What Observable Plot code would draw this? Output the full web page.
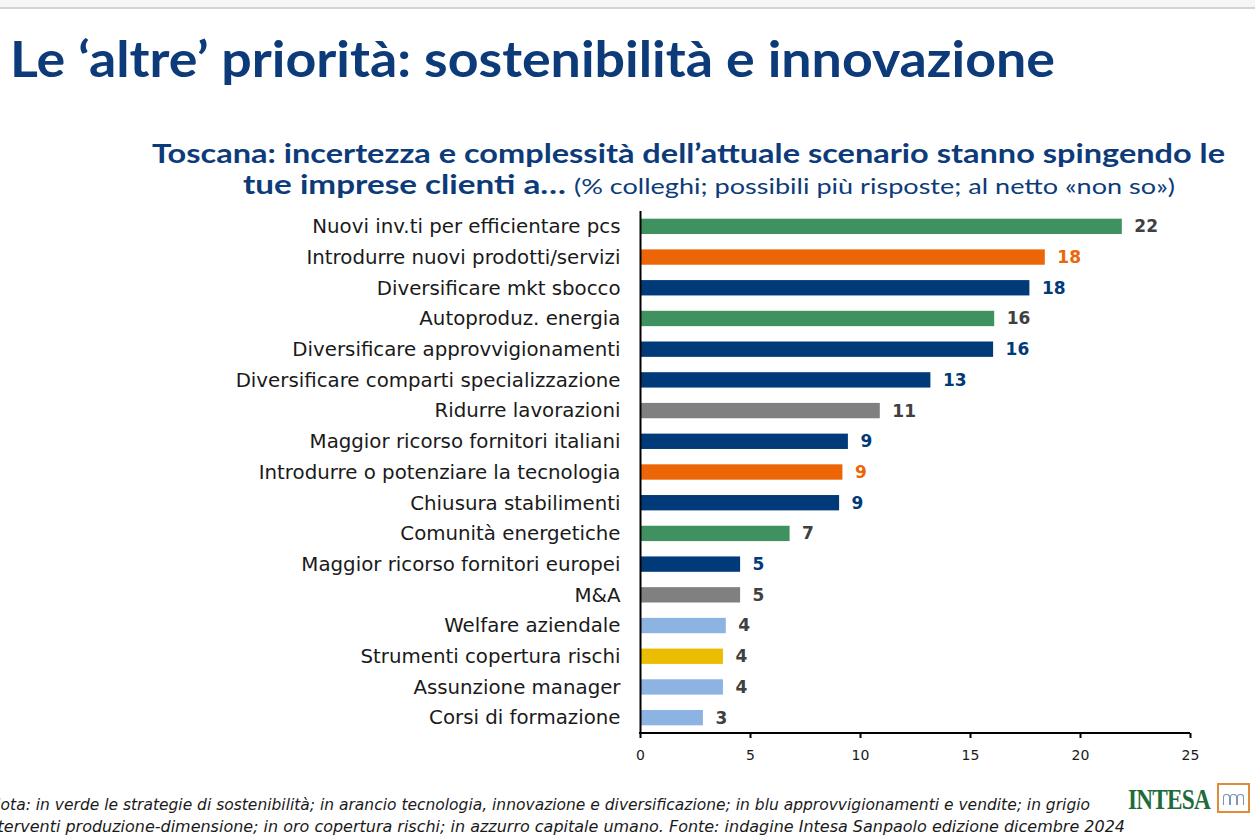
<!DOCTYPE html>
<html>
<head>
<meta charset="utf-8">
<script src="https://cdn.jsdelivr.net/npm/d3@7"></script>
<script src="https://cdn.jsdelivr.net/npm/@observablehq/plot@0.6"></script>
<style>
  html, body { margin: 0; padding: 0; background: #fff; }
  body { width: 1255px; height: 839px; overflow: hidden; position: relative; font-family: "DejaVu Sans", sans-serif; }
  .abs { position: absolute; white-space: nowrap; transform-origin: 0 0; }
  #topbar { position: absolute; left: 0; top: 0; width: 1255px; height: 7px; background: #f6f6f6; border-bottom: 2px solid #d4d4d4; }
  #title { left: 10px; top: 28px; font-family: Lato, sans-serif; font-weight: 700; font-size: 50px; color: #0d3b7a; }
  .sub { font-family: Lato, sans-serif; font-weight: 700; color: #0d3b7a; }
  #sub1 { left: 152px; top: 136px; font-size: 27px; }
  #sub2 { left: 243px; top: 167px; font-size: 27px; }
  #sub2 .light { font-weight: 400; font-size: 22px; }
  .foot { font-family: "DejaVu Sans", sans-serif; font-style: italic; font-size: 15px; color: #1a1a1a; }
  #foot1 { left: -11px; top: 796px; }
  #foot2 { left: -17px; top: 818px; }
  #logo { left: 1128px; top: 782px; font-family: "Liberation Serif", serif; font-weight: 700; font-size: 30px; color: #1e6b3c; letter-spacing: -1px; }
  #icon { position: absolute; left: 1217px; top: 783px; width: 29px; height: 26px; border: 2px solid #e08a3c; background: #fff; box-sizing: content-box; }
  #icon span { position: absolute; bottom: 6px; width: 5px; height: 10px; border: 1px solid #7a95b8; border-bottom: none; border-radius: 3px 3px 0 0; }
  #chart { position: absolute; left: 0; top: 0; }
</style>
</head>
<body>
<div id="topbar"></div>
<div id="chart"></div>
<div id="title" class="abs">Le ‘altre’ priorità: sostenibilità e innovazione</div>
<div id="sub1" class="abs sub">Toscana: incertezza e complessità dell’attuale scenario stanno spingendo le</div>
<div id="sub2" class="abs sub">tue imprese clienti a… <span class="light">(% colleghi; possibili più risposte; al netto «non so»)</span></div>
<div id="foot1" class="abs foot">Nota: in verde le strategie di sostenibilità; in arancio tecnologia, innovazione e diversificazione; in blu approvvigionamenti e vendite; in grigio</div>
<div id="foot2" class="abs foot">interventi produzione-dimensione; in oro copertura rischi; in azzurro capitale umano. Fonte: indagine Intesa Sanpaolo edizione dicembre 2024</div>
<div id="logo" class="abs">INTESA</div>
<div id="icon"><span style="left:4px"></span><span style="left:11px"></span><span style="left:18px"></span></div>
<script>
const categories = [
  "Nuovi inv.ti per efficientare pcs",
  "Introdurre nuovi prodotti/servizi",
  "Diversificare mkt sbocco",
  "Autoproduz. energia",
  "Diversificare approvvigionamenti",
  "Diversificare comparti specializzazione",
  "Ridurre lavorazioni",
  "Maggior ricorso fornitori italiani",
  "Introdurre o potenziare la tecnologia",
  "Chiusura stabilimenti",
  "Comunità energetiche",
  "Maggior ricorso fornitori europei",
  "M&A",
  "Welfare aziendale",
  "Strumenti copertura rischi",
  "Assunzione manager",
  "Corsi di formazione"
];
const values = [21.9, 18.4, 17.7, 16.1, 16.05, 13.2, 10.9, 9.45, 9.2, 9.05, 6.8, 4.55, 4.55, 3.9, 3.77, 3.77, 2.86];
const groups = ["verde", "arancio", "blu", "verde", "blu", "blu", "grigio", "blu", "arancio", "blu", "verde", "blu", "grigio", "azzurro", "oro", "azzurro", "azzurro"];
const xTicks = [0, 5, 10, 15, 20, 25];

const groupNames = ["verde", "arancio", "blu", "grigio", "oro", "azzurro"];
const barColors = ["#3f9160", "#ec6608", "#003a78", "#808080", "#ebbd00", "#8db3e2"];
const labelColors = ["#404040", "#ec6608", "#003a78", "#404040", "#404040", "#404040"];

const data = categories.map((c, i) => ({cat: c, v: values[i], g: groups[i]}));
const labelColor = g => labelColors[groupNames.indexOf(g)];

// bottom axis line, drawn along the x scale's range
const bottomLine = (index, scales, values, dims) => {
  const [x0, x1] = [scales.x(0), scales.x(25)];
  const y = dims.height - dims.marginBottom;
  const line = document.createElementNS("http://www.w3.org/2000/svg", "line");
  line.setAttribute("x1", x0 - 1);
  line.setAttribute("x2", x1);
  line.setAttribute("y1", y);
  line.setAttribute("y2", y);
  line.setAttribute("stroke", "#000");
  line.setAttribute("stroke-width", 2);
  return line;
};

const plot = Plot.plot({
  width: 1255,
  height: 839,
  marginLeft: 640,
  marginRight: 65,
  marginTop: 211,
  marginBottom: 106,
  style: {fontFamily: "DejaVu Sans, sans-serif", background: "transparent"},
  x: {domain: [0, 25]},
  y: {domain: categories, paddingInner: 0.5, paddingOuter: 0.25, round: false},
  color: {domain: groupNames, range: barColors},
  marks: [
    Plot.barX(data, {x: "v", y: "cat", fill: "g"}),
    Plot.text(data, {
      x: "v", y: "cat", text: d => String(Math.round(d.v)),
      dx: 12, textAnchor: "start", fontWeight: "bold", fontSize: 17,
      fill: d => labelColor(d.g)
    }),
    Plot.ruleX([0], {stroke: "#000", strokeWidth: 2}),
    bottomLine,
    Plot.axisX({ticks: xTicks, tickFormat: d => String(d), stroke: "#000", strokeWidth: 2, tickSize: 5, tickPadding: 12, fontSize: 14, fill: "#1a1a1a", label: null}),
    Plot.axisY({tickSize: 0, tickPadding: 20, fontSize: 19.8, fill: "#1a1a1a", label: null})
  ]
});
document.getElementById("chart").appendChild(plot);

function fit(id, w) {
  const el = document.getElementById(id);
  el.style.transform = "none";
  const cw = el.getBoundingClientRect().width;
  el.style.transform = `scaleX(${w / cw})`;
}
function fitAll() {
  fit("title", 1045);
  fit("sub1", 1073);
  fit("sub2", 932);
  fit("foot1", 1101);
  fit("foot2", 1142);
  fit("logo", 82);
}
fitAll();
if (document.fonts && document.fonts.ready) document.fonts.ready.then(fitAll);
</script>
</body>
</html>
